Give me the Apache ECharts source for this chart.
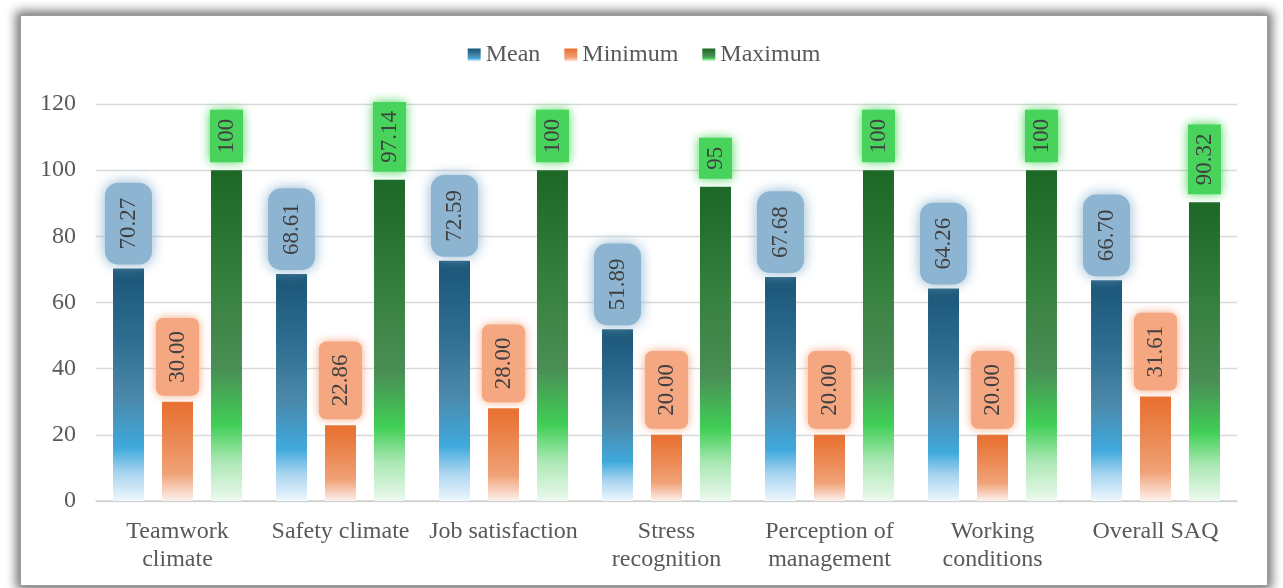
<!DOCTYPE html>
<html>
<head>
<meta charset="utf-8">
<script src="https://cdn.jsdelivr.net/npm/echarts@6/dist/echarts.min.js"></script>
<style>
  html, body { margin: 0; padding: 0; background: #ffffff; width: 1283px; height: 588px; overflow: hidden; }
  #frame { position: absolute; left: 20px; top: 15px; width: 1248px; height: 571px; background: #fff;
           border: 1px solid #9a9a9a; box-sizing: border-box;
           box-shadow: 0 0 10px 4px rgba(0,0,0,0.55); }
  #chart { width: 100%; height: 100%; }
</style>
</head>
<body>
<div id="frame"><div id="chart"></div></div>
<script>
const categories = ["Teamwork\nclimate", "Safety climate", "Job satisfaction", "Stress\nrecognition", "Perception of\nmanagement", "Working\nconditions", "Overall SAQ"];
const meanValues = [70.27, 68.61, 72.59, 51.89, 67.68, 64.26, 66.70];
const minValues = [30.00, 22.86, 28.00, 20.00, 20.00, 20.00, 31.61];
const maxValues = [100, 97.14, 100, 95, 100, 100, 90.32];
const seriesNames = ["Mean", "Minimum", "Maximum"];
const yTicks = { min: 0, max: 120, interval: 20 };

const FONT = "'Liberation Serif', 'Times New Roman', serif";
const TXT = '#595959';

function grad(stops) {
  return new echarts.graphic.LinearGradient(0, 0, 0, 1, stops.map(s => ({ offset: s[0], color: s[1] })));
}
const meanGrad = grad([[0, '#1a5577'], [0.3, '#2e6d91'], [0.55, '#4b87a8'], [0.77, '#3fa9dd'], [0.88, '#a8d4ef'], [1, '#eef7fd']]);
const minGrad = grad([[0, '#e86f2e'], [0.45, '#ec8d5a'], [0.72, '#f0a277'], [0.85, '#f6c6ae'], [1, '#fcf1ec']]);
const maxGrad = grad([[0, '#1c6626'], [0.35, '#37803f'], [0.6, '#4a8e55'], [0.77, '#40cf56'], [0.88, '#abe8b4'], [1, '#ecf9ee']]);

function label(bg, radius, pad, dist, blur, fmt) {
  return {
    show: true, position: 'top', rotate: 90, align: 'left', verticalAlign: 'middle',
    distance: dist, fontFamily: FONT, fontSize: 23, color: '#404040',
    backgroundColor: bg, borderRadius: radius, padding: pad,
    shadowColor: bg, shadowBlur: blur,
    formatter: fmt
  };
}

const chart = echarts.init(document.getElementById('chart'));
chart.setOption({
  animation: false,
  legend: {
    top: 22, left: 'center', icon: 'rect', itemWidth: 13, itemHeight: 13, itemGap: 24,
    textStyle: { fontFamily: FONT, fontSize: 24, color: TXT },
    data: seriesNames
  },
  grid: { left: 75, right: 30, top: 88, bottom: 84 },
  xAxis: {
    type: 'category', data: categories,
    axisLine: { lineStyle: { color: '#d0d0d0', width: 1.5 } },
    axisTick: { show: false },
    axisLabel: { fontFamily: FONT, fontSize: 24, color: TXT, lineHeight: 28, margin: 17, interval: 0 }
  },
  yAxis: {
    type: 'value', min: yTicks.min, max: yTicks.max, interval: yTicks.interval,
    axisLine: { show: false }, axisTick: { show: false },
    axisLabel: { fontFamily: FONT, fontSize: 24, color: TXT, margin: 20 },
    splitLine: { lineStyle: { color: '#d9d9d9', width: 1.3 } }
  },
  series: [
    { name: seriesNames[0], type: 'bar', data: meanValues, barWidth: 31, barGap: '58%', barCategoryGap: '21%',
      itemStyle: { color: meanGrad },
      label: label('#8db4d0', 13, [12, 15], 4, 14, p => p.value.toFixed(2)) },
    { name: seriesNames[1], type: 'bar', data: minValues, barWidth: 31, barGap: '58%',
      itemStyle: { color: minGrad },
      label: label('#f4a781', 7, [10, 13], 6, 10, p => p.value.toFixed(2)) },
    { name: seriesNames[2], type: 'bar', data: maxValues, barWidth: 31, barGap: '58%',
      itemStyle: { color: maxGrad },
      label: label('#48d35c', 0, [5, 9], 8, 10, p => String(p.value)) }
  ]
});
</script>
</body>
</html>
